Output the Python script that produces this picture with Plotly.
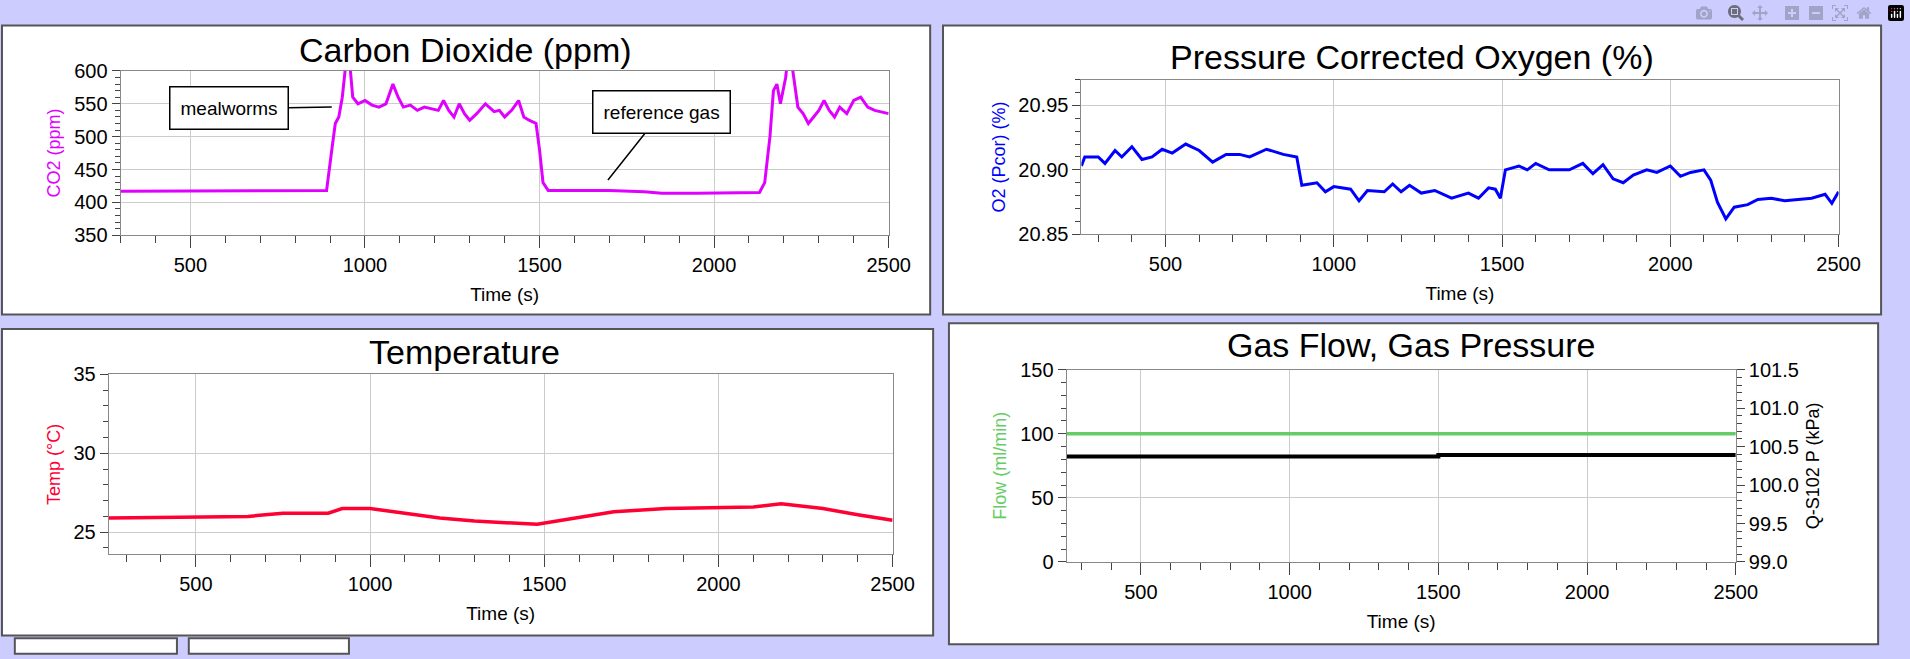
import plotly.graph_objects as go

W, H = 1910, 659

co2_t = [300, 880, 890, 905, 915, 925, 935, 945, 955, 965, 980, 1000, 1020, 1040, 1060, 1070, 1080, 1095, 1110, 1130, 1150, 1170, 1190, 1210, 1225, 1240, 1255, 1270, 1285, 1300, 1320, 1345, 1370, 1385, 1400, 1420, 1440, 1455, 1470, 1490, 1500, 1510, 1525, 1700, 1800, 1850, 1950, 2130, 2145, 2160, 2170, 2180, 2190, 2205, 2215, 2225, 2240, 2255, 2270, 2285, 2300, 2315, 2330, 2345, 2360, 2380, 2400, 2420, 2440, 2460, 2500]
co2_v = [417, 417, 418, 480, 520, 530, 560, 610, 620, 560, 550, 555, 548, 545, 550, 565, 580, 560, 545, 548, 540, 545, 543, 540, 555, 540, 530, 550, 535, 525, 535, 550, 538, 540, 530, 540, 555, 530, 525, 520, 480, 430, 418, 418, 416, 414, 414, 415, 430, 500, 570, 580, 550, 590, 640, 600, 545, 535, 520, 530, 540, 555, 540, 530, 545, 535, 555, 560, 545, 540, 535]

o2_t = [250, 260, 300, 320, 350, 370, 400, 430, 460, 490, 520, 560, 600, 640, 680, 720, 750, 800, 850, 890, 905, 950, 975, 1000, 1050, 1075, 1100, 1150, 1175, 1200, 1225, 1260, 1300, 1350, 1400, 1430, 1460, 1480, 1495, 1510, 1550, 1575, 1600, 1640, 1700, 1740, 1770, 1800, 1830, 1860, 1890, 1930, 1960, 2000, 2030, 2060, 2100, 2120, 2140, 2165, 2190, 2230, 2260, 2300, 2340, 2380, 2420, 2460, 2480, 2500]
o2_v = [20.903, 20.91, 20.91, 20.905, 20.915, 20.91, 20.918, 20.908, 20.91, 20.916, 20.913, 20.92, 20.915, 20.906, 20.912, 20.912, 20.91, 20.916, 20.912, 20.91, 20.888, 20.89, 20.883, 20.887, 20.885, 20.876, 20.884, 20.883, 20.889, 20.883, 20.888, 20.882, 20.884, 20.878, 20.882, 20.878, 20.886, 20.885, 20.878, 20.9, 20.903, 20.9, 20.905, 20.9, 20.9, 20.905, 20.897, 20.904, 20.893, 20.89, 20.896, 20.9, 20.898, 20.903, 20.895, 20.898, 20.9, 20.892, 20.875, 20.862, 20.871, 20.873, 20.877, 20.878, 20.876, 20.877, 20.878, 20.881, 20.874, 20.883]

temp_t = [250, 500, 650, 700, 750, 880, 920, 1000, 1100, 1200, 1300, 1480, 1550, 1650, 1700, 1850, 1950, 2100, 2180, 2300, 2400, 2500]
temp_v = [25.9, 25.95, 26.0, 26.1, 26.2, 26.2, 26.5, 26.5, 26.2, 25.9, 25.7, 25.5, 25.75, 26.1, 26.3, 26.5, 26.55, 26.6, 26.8, 26.5, 26.1, 25.75]

flow_t = [250, 2500]
flow_v = [100, 100]
pres_t = [250, 1500, 1500, 2500]
pres_v = [100.37, 100.37, 100.39, 100.39]

def px(x): return x / W
def py(y): return 1 - y / H

FONT = "Liberation Sans"
fig = go.Figure()

panels = [(2, 15, 941, 314), (954, 15, 1903, 314), (2, 329, 944, 646), (960, 323, 1900, 655),
          (15, 649, 179, 665), (191, 649, 353, 665)]
shapes = []
for x0, y0, x1, y1 in panels:
    shapes.append(dict(type="rect", xref="paper", yref="paper", x0=px(x0), x1=px(x1), y0=py(y1), y1=py(y0),
                       fillcolor="white", line=dict(color="#555555", width=2), layer="below"))

fig.add_trace(go.Scatter(x=co2_t, y=co2_v, mode="lines", line=dict(color="#E000FF", width=3), xaxis="x", yaxis="y", showlegend=False))
fig.add_trace(go.Scatter(x=o2_t, y=o2_v, mode="lines", line=dict(color="#0000FF", width=3), xaxis="x2", yaxis="y2", showlegend=False))
fig.add_trace(go.Scatter(x=temp_t, y=temp_v, mode="lines", line=dict(color="#FF0033", width=3.5), xaxis="x3", yaxis="y3", showlegend=False))
fig.add_trace(go.Scatter(x=flow_t, y=flow_v, mode="lines", line=dict(color="#66CC66", width=3.5), xaxis="x4", yaxis="y4", showlegend=False))
fig.add_trace(go.Scatter(x=pres_t, y=pres_v, mode="lines", line=dict(color="black", width=4), xaxis="x4", yaxis="y5", showlegend=False))

tf = dict(family=FONT, size=20, color="black")
def xax(dom, anchor, rng):
    return dict(domain=dom, anchor=anchor, range=rng, tickvals=[500, 1000, 1500, 2000, 2500],
                ticks="outside", ticklen=12, tickcolor="#444", showline=True, linecolor="#888", mirror=True,
                showgrid=True, gridcolor="#CCCCCC", zeroline=False, tickfont=tf,
                minor=dict(dtick=100, ticks="outside", ticklen=7, tickcolor="#444", showgrid=False),
                title=dict(text="Time (s)", font=dict(family=FONT, size=19, color="black"), standoff=12))
def yax(dom, anchor, rng, dtick, minor, title, color, fmt=None):
    d = dict(domain=dom, anchor=anchor, range=rng, dtick=dtick, tick0=rng[0] if fmt else 0,
             ticks="outside", ticklen=8, tickcolor="#444", showline=True, linecolor="#888", mirror=True,
             showgrid=True, gridcolor="#CCCCCC", zeroline=False, tickfont=tf,
             minor=dict(dtick=minor, ticks="outside", ticklen=5, tickcolor="#444", showgrid=False),
             title=dict(text=title, font=dict(family=FONT, size=18, color=color), standoff=8))
    if fmt:
        d["tickformat"] = fmt
    return d

fig.update_layout(
    width=W, height=H, margin=dict(l=0, r=0, t=0, b=0),
    paper_bgcolor="#CCCCFF", plot_bgcolor="white", shapes=shapes,
    xaxis=xax([px(122), px(899)], "y", [300, 2500]),
    yaxis=dict(yax([py(232), py(62)], "x", [350, 600], 50, 10, "CO2 (ppm)", "#E000FF"), tick0=350),
    xaxis2=xax([px(1094), px(1860)], "y2", [250, 2500]),
    yaxis2=yax([py(231), py(71)], "x2", [20.85, 20.97], 0.05, 0.01, "O2 (Pcor) (%)", "#0000FF", ".2f"),
    xaxis3=xax([px(110), px(903)], "y3", [250, 2500]),
    yaxis3=dict(yax([py(562), py(376)], "x3", [23.6, 35], 5, 1, "Temp (°C)", "#FF0033"), tick0=0),
    xaxis4=xax([px(1079), px(1756)], "y4", [250, 2500]),
    yaxis4=yax([py(570), py(371)], "x4", [0, 150], 50, 10, "Flow (ml/min)", "#66CC66"),
    yaxis5=dict(domain=[py(570), py(371)], anchor="x4", overlaying="y4", side="right", range=[99.0, 101.5],
                dtick=0.5, tick0=99, tickformat=".1f", ticks="outside", ticklen=8, tickcolor="#444",
                showgrid=False, zeroline=False, showline=True, linecolor="#888", tickfont=tf,
                minor=dict(dtick=0.1, ticks="outside", ticklen=5, tickcolor="#444"),
                title=dict(text="Q-S102 P (kPa)", font=dict(family=FONT, size=18, color="black"), standoff=8)),
)

titles = [("Carbon Dioxide (ppm)", 471, 40), ("Pressure Corrected Oxygen (%)", 1428, 48),
          ("Temperature", 470, 353), ("Gas Flow, Gas Pressure", 1427, 346)]
for t, x, y in titles:
    fig.add_annotation(text=t, xref="paper", yref="paper", x=px(x), y=py(y), showarrow=False,
                       font=dict(family=FONT, size=34, color="black"), xanchor="center", yanchor="middle")

fig.add_annotation(text="mealworms", x=905, y=545, xref="x", yref="y", ax=611, ay=543, axref="x", ayref="y",
                   showarrow=True, arrowhead=0, arrowwidth=1.5, arrowcolor="black",
                   bordercolor="black", borderwidth=1.5, borderpad=10, bgcolor="white",
                   font=dict(family=FONT, size=19, color="black"))
fig.add_annotation(text="reference gas", x=1696, y=434, xref="x", yref="y", ax=1850, ay=537, axref="x", ayref="y",
                   showarrow=True, arrowhead=0, arrowwidth=1.5, arrowcolor="black",
                   bordercolor="black", borderwidth=1.5, borderpad=10, bgcolor="white",
                   font=dict(family=FONT, size=19, color="black"))

fig.write_html("out.html", post_script="document.body.style.margin='0';document.body.style.overflow='hidden';")
